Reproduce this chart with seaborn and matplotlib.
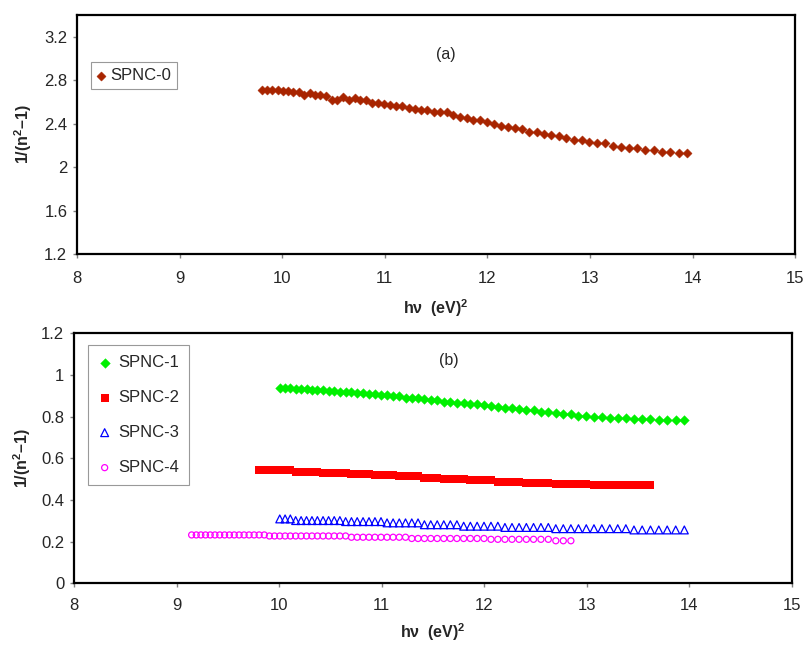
import matplotlib
matplotlib.use("Agg")
import matplotlib.pyplot as plt
from matplotlib.ticker import FormatStrFormatter
import seaborn as sns

# photon energy axis, (h nu)^2 in eV^2, shared by all samples
hv2 = [9.147, 9.192, 9.237, 9.282, 9.328, 9.374, 9.421, 9.468, 9.515, 9.562,
       9.610, 9.658, 9.707, 9.756,
       9.805, 9.855, 9.905, 9.955, 10.006, 10.058, 10.109, 10.161, 10.214, 10.267,
       10.320, 10.373, 10.428, 10.482, 10.537, 10.592, 10.648, 10.705, 10.761, 10.818,
       10.876, 10.934, 10.993, 11.052, 11.111, 11.171, 11.232, 11.293, 11.354, 11.416,
       11.478, 11.541, 11.605, 11.669, 11.733, 11.799, 11.864, 11.930, 11.997, 12.065,
       12.132, 12.201, 12.270, 12.339, 12.410, 12.480, 12.552, 12.624, 12.697, 12.770,
       12.844, 12.918, 12.994, 13.069, 13.146, 13.223, 13.301, 13.380, 13.459, 13.539,
       13.620, 13.701, 13.783, 13.866, 13.950]

x_spnc0 = hv2[14:]
x_spnc1 = hv2[18:]
x_spnc2 = hv2[14:75]
x_spnc3 = hv2[18:]
x_spnc4 = hv2[0:65]

y_spnc0 = [2.706, 2.706, 2.706, 2.706, 2.697, 2.697, 2.688, 2.693, 2.663, 2.678,
           2.663, 2.663, 2.651, 2.617, 2.617, 2.644, 2.617, 2.632, 2.617, 2.617,
           2.592, 2.592, 2.580, 2.571, 2.559, 2.559, 2.546, 2.534, 2.522, 2.525,
           2.509, 2.503, 2.503, 2.479, 2.463, 2.454, 2.436, 2.433, 2.417, 2.393,
           2.380, 2.368, 2.362, 2.350, 2.325, 2.325, 2.304, 2.295, 2.283, 2.270,
           2.252, 2.246, 2.233, 2.221, 2.221, 2.196, 2.187, 2.178, 2.178, 2.154,
           2.154, 2.142, 2.142, 2.129, 2.129]

y_spnc1 = [0.939, 0.939, 0.936, 0.933, 0.933, 0.933, 0.928, 0.928, 0.926, 0.923,
           0.923, 0.920, 0.917, 0.917, 0.914, 0.914, 0.910, 0.907, 0.904, 0.904,
           0.898, 0.898, 0.891, 0.891, 0.891, 0.885, 0.881, 0.878, 0.872, 0.872,
           0.866, 0.866, 0.862, 0.859, 0.856, 0.850, 0.846, 0.843, 0.840, 0.837,
           0.832, 0.830, 0.824, 0.824, 0.818, 0.811, 0.811, 0.805, 0.805, 0.798,
           0.798, 0.792, 0.792, 0.795, 0.789, 0.789, 0.789, 0.782, 0.782, 0.782,
           0.782]

y_spnc2 = [0.542, 0.542, 0.542, 0.542, 0.542, 0.542, 0.542,
           0.534, 0.534, 0.534, 0.534, 0.534,
           0.528, 0.528, 0.528, 0.528, 0.528,
           0.523, 0.523, 0.523, 0.523,
           0.518, 0.518, 0.518, 0.518,
           0.514, 0.514, 0.514, 0.514,
           0.507, 0.507, 0.507,
           0.501, 0.501, 0.501, 0.501,
           0.494, 0.494, 0.494, 0.494,
           0.488, 0.488, 0.488, 0.488,
           0.483, 0.483, 0.483, 0.483,
           0.477, 0.477, 0.477, 0.477, 0.477,
           0.470, 0.470, 0.470, 0.470, 0.470, 0.470, 0.470, 0.470]

y_spnc3 = [0.309, 0.309, 0.309,
           0.301, 0.301, 0.301, 0.301, 0.301, 0.301, 0.301, 0.301, 0.301,
           0.296, 0.296, 0.296, 0.296, 0.296, 0.296, 0.296,
           0.290, 0.290, 0.290, 0.290, 0.290, 0.290,
           0.281, 0.281, 0.281, 0.281, 0.281, 0.281,
           0.274, 0.274, 0.274, 0.274, 0.274, 0.274,
           0.268, 0.268, 0.268, 0.268, 0.268, 0.268, 0.268,
           0.262, 0.262, 0.262, 0.262, 0.262, 0.262, 0.262, 0.262, 0.262, 0.262,
           0.256, 0.256, 0.256, 0.256, 0.256, 0.256, 0.256]

y_spnc4 = [0.232, 0.232, 0.232, 0.232, 0.232, 0.232, 0.232, 0.232,
           0.232, 0.232, 0.232, 0.232, 0.232, 0.232, 0.232, 0.232,
           0.227, 0.227, 0.227, 0.227, 0.227, 0.227, 0.227, 0.227,
           0.227, 0.227, 0.227, 0.227, 0.227, 0.227, 0.227,
           0.221, 0.221, 0.221, 0.221, 0.221, 0.221, 0.221, 0.221, 0.221, 0.221,
           0.215, 0.215, 0.215, 0.215, 0.215, 0.215, 0.215, 0.215, 0.215, 0.215,
           0.215, 0.215,
           0.211, 0.211, 0.211, 0.211, 0.211, 0.211, 0.211, 0.211, 0.211,
           0.204, 0.204, 0.204]

x_ticks = [8, 9, 10, 11, 12, 13, 14, 15]
y_ticks_a = [1.2, 1.6, 2.0, 2.4, 2.8, 3.2]
y_ticks_b = [0, 0.2, 0.4, 0.6, 0.8, 1.0, 1.2]

sns.set_style("ticks")
plt.rcParams["font.family"] = ["Liberation Sans", "DejaVu Sans"]
plt.rcParams["mathtext.fontset"] = "custom"
plt.rcParams["mathtext.rm"] = "Liberation Sans"
plt.rcParams["mathtext.bf"] = "Liberation Sans:bold"

fig = plt.figure(figsize=(8.05, 6.45), dpi=100)
ax1 = fig.add_axes([0.0957, 0.6062, 0.892, 0.3705])
ax2 = fig.add_axes([0.0919, 0.0957, 0.892, 0.3876])

# (a) undoped sample
sns.scatterplot(x=x_spnc0, y=y_spnc0, ax=ax1, marker="D", s=22,
                color="#A82400", edgecolor="#A82400", linewidth=0.3, label="SPNC-0")

# (b) doped samples
sns.scatterplot(x=x_spnc1, y=y_spnc1, ax=ax2, marker="D", s=24,
                color="#00F000", edgecolor="#00F000", linewidth=0.3, label="SPNC-1")
sns.scatterplot(x=x_spnc2, y=y_spnc2, ax=ax2, marker="s", s=30,
                color="#FF0000", edgecolor="#FF0000", linewidth=0, label="SPNC-2")
sns.scatterplot(x=x_spnc3, y=y_spnc3, ax=ax2, marker="^", s=32,
                facecolors="none", edgecolor="#0000FF", linewidth=0.9, label="SPNC-3")
sns.scatterplot(x=x_spnc4, y=y_spnc4, ax=ax2, marker="o", s=19,
                facecolors="none", edgecolor="#FF00FF", linewidth=0.9, label="SPNC-4")

for ax, yt, ylim, xpad in [(ax1, y_ticks_a, (1.2, 3.4), 9.0), (ax2, y_ticks_b, (0, 1.2), 7.5)]:
    ax.set_xlim(8, 15)
    ax.set_ylim(*ylim)
    ax.set_xticks(x_ticks)
    ax.set_yticks(yt)
    ax.yaxis.set_major_formatter(FormatStrFormatter("%g"))
    ax.tick_params(direction="out", length=3, width=1, color="#808080", labelsize=12)
    ax.tick_params(axis="x", pad=xpad)
    ax.tick_params(axis="y", pad=4)
    for sp in ax.spines.values():
        sp.set_visible(True)
        sp.set_color("black")
        sp.set_linewidth(1.6)
    ax.set_ylabel(r"1/(n$^\mathbf{2}$–1)", fontsize=11.5, fontweight="bold")
    ax.set_xlabel(r"hν  (eV)$^\mathbf{2}$", fontsize=11.5, fontweight="bold")
    ax.xaxis.label.set_va("center")
    ax.yaxis.label.set_va("center")

ax1.xaxis.set_label_coords(0.5, -0.226)
ax1.yaxis.set_label_coords(-0.075, 0.5)
ax2.xaxis.set_label_coords(0.5, -0.195)
ax2.yaxis.set_label_coords(-0.072, 0.5)

ax1.text(0.513, 0.833, "(a)", transform=ax1.transAxes, fontsize=11.5, ha="center", va="center")
ax2.text(0.522, 0.893, "(b)", transform=ax2.transAxes, fontsize=11.5, ha="center", va="center")

leg1 = ax1.legend(loc="upper left", bbox_to_anchor=(0.0195, 0.803), borderaxespad=0,
                  fontsize=12, frameon=True, fancybox=False, framealpha=1,
                  edgecolor="#999999", handlelength=0.5, handletextpad=0.3,
                  borderpad=0.35)
leg1.get_frame().set_linewidth(0.8)

leg2 = ax2.legend(loc="upper left", bbox_to_anchor=(0.0195, 0.953), borderaxespad=0,
                  fontsize=12, frameon=True, fancybox=False, framealpha=1,
                  edgecolor="#999999", handlelength=0.8, handletextpad=0.4,
                  borderpad=0.6, labelspacing=1.2)
leg2.get_frame().set_linewidth(0.8)

fig.savefig("out.png", dpi=100)
